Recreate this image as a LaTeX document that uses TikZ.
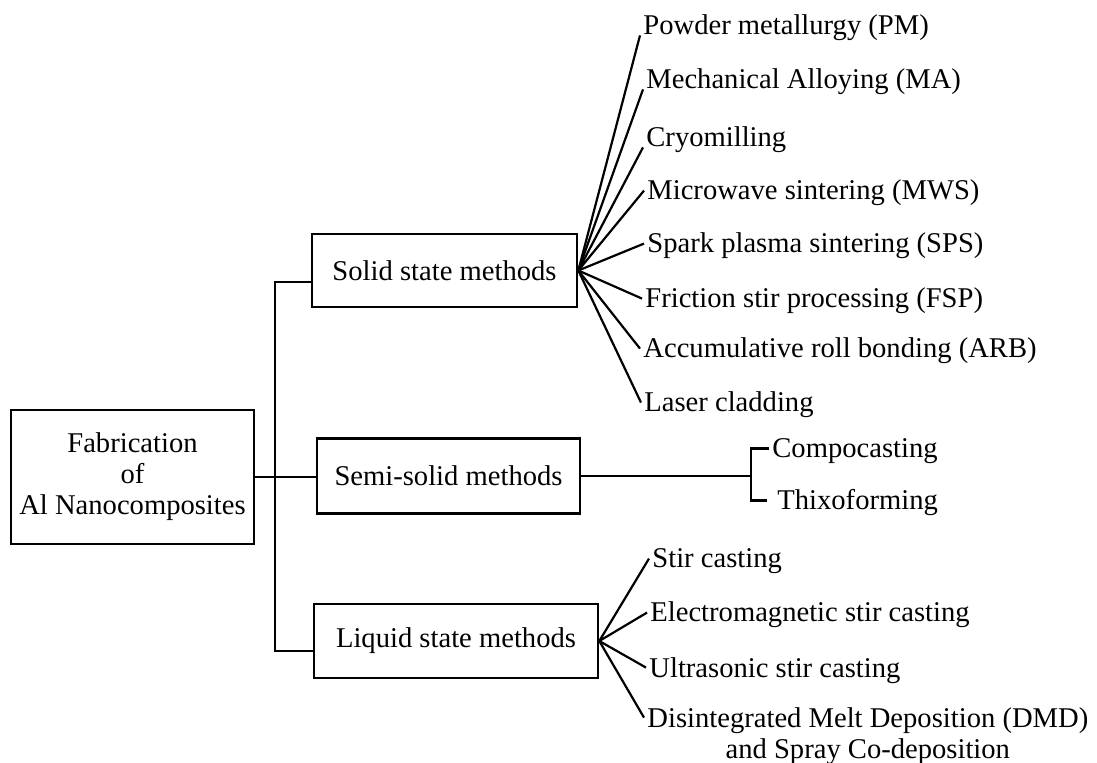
\documentclass[tikz,border=0pt]{standalone}
\usepackage{fontspec}
\setmainfont{Liberation Serif}
\usepackage{tikz}
\usetikzlibrary{positioning,calc}
\tikzset{
  mainbox/.style={draw, line width=1.3pt, align=center, minimum width=121.5pt, minimum height=67pt, inner sep=2pt},
  methodbox/.style={draw, line width=1.3pt, minimum height=37pt, inner sep=2pt},
  item/.style={anchor=base west, inner xsep=1.5pt, inner ysep=0pt, text height=9.4pt, text depth=0pt},
  link/.style={line width=1.1pt}
}

\begin{document}
\begin{tikzpicture}[x=0.5pt, y=-0.5pt, font=\fontsize{14.3}{15.5}\selectfont]
  \useasboundingbox (0,0) rectangle (1097,763);
  % main box and the three routes
  \node[mainbox] (fab) at (132.5,477) {Fabrication\\of\\Al Nanocomposites};
  \node[methodbox, minimum width=132.5pt, minimum height=36.5pt] (solid) at (444.5,270.5) {Solid state methods};
  \node[methodbox, minimum width=131.5pt, minimum height=37.5pt] (semi) at (448.5,476) {Semi-solid methods};
  \node[methodbox, minimum width=142pt] (liquid) at (456,641) {Liquid state methods};

  \coordinate (trunk) at (275,477);
  \draw[link] (fab.east) -- (fab.east -| semi.west);
  \draw[link] ([yshift=-5.75pt]solid.west) -| (trunk) |- ([yshift=-5pt]liquid.west);

  % solid state
  \node[item] (pm) at (640,35) {Powder metallurgy (PM)};
  \node[item] (ma) at (643,89) {Mechanical Alloying (MA)};
  \node[item] (cryo) at (643,147) {Cryomilling};
  \node[item] (mws) at (644,200) {Microwave sintering (MWS)};
  \node[item] (sps) at (644,253) {Spark plasma sintering (SPS)};
  \node[item] (fsp) at (642,308) {Friction stir processing (FSP)};
  \node[item] (arb) at (640,358) {Accumulative roll bonding (ARB)};
  \node[item] (laser) at (641,412) {Laser cladding};
  \foreach \n in {pm,ma,cryo}
    \draw[link] (solid.east) -- (\n.south west);
  \foreach \n in {mws,sps,fsp,arb,laser}
    \draw[link] (solid.east) -- (\n.west);

  % semi-solid
  \node[item] (compo) at (769,458) {Compocasting};
  \node[item] (thixo) at (774,510) {Thixoforming};
  \coordinate (brk) at (751,476);
  \draw[link] (semi.east) -- (brk);
  \draw[link] (compo.west) -| (brk) |- ([xshift=-3.5pt]thixo.west);

  % liquid state
  \node[item] (stir) at (649,568) {Stir casting};
  \node[item] (em) at (647,622) {Electromagnetic stir casting};
  \node[item] (us) at (646,677) {Ultrasonic stir casting};
  \node[item] (dmd) at (644,727) {Disintegrated Melt Deposition (DMD)};
  \node[item, anchor=base] (dmd2) at ([yshift=-15.5pt]dmd.base) {and Spray Co-deposition};
  \foreach \n in {stir,em,us,dmd}
    \draw[link] (liquid.east) -- (\n.west);
\end{tikzpicture}
\end{document}
